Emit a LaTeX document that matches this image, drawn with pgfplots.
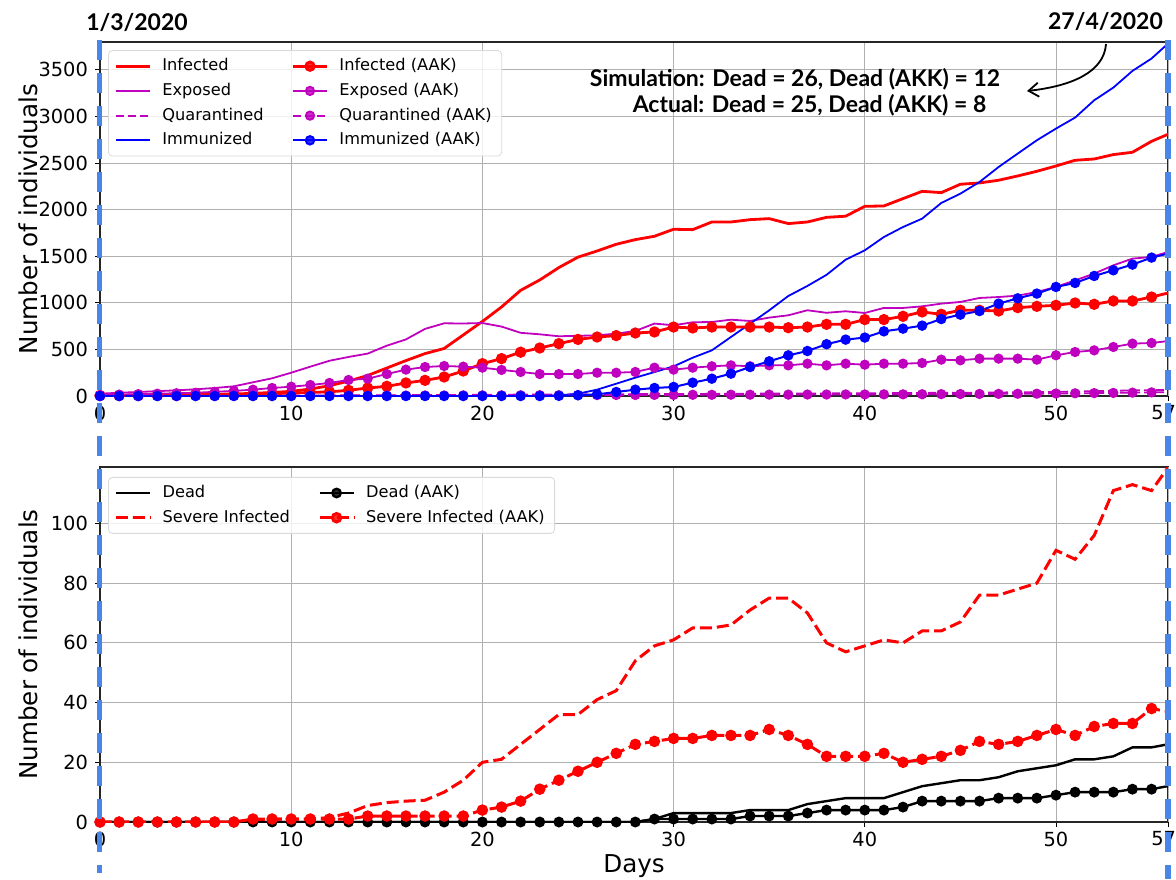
\documentclass[border=0pt]{standalone}
\usepackage{pgfplots}
\pgfplotsset{compat=1.18}
\usepackage{pgfplotstable}
\usepackage{fontspec}
\setmainfont{DejaVu Sans}
\newfontfamily\latofont{Lato}
\usetikzlibrary{arrows.meta}
\definecolor{mred}{RGB}{255,0,0}
\definecolor{mmag}{RGB}{191,0,191}
\definecolor{mblue}{RGB}{0,0,255}
\definecolor{gblue}{RGB}{74,134,232}
\definecolor{gridgray}{RGB}{176,176,176}

\pgfplotstableread{
d inf exp quar imm infA expA quarA immA
0 5 25 0 0 5 10 0 0
1 6 35 0 0 5 15 0 0
2 8 43 0 0 6 20 0 0
3 10 52 1 0 7 25 0 0
4 12 61 1 0 8 30 1 0
5 15 72 2 0 10 35 1 0
6 18 86 2 0 12 45 1 0
7 22 104 3 0 15 55 2 0
8 28 147 3 0 20 68 2 0
9 38 190 4 0 25 86 2 0
10 50 250 5 0 32 100 3 0
11 75 315 5 0 38 118 3 0
12 110 378 6 0 45 140 3 0
13 160 419 7 0 61 172 4 0
14 220 455 8 0 86 186 4 0
15 300 540 8 0 104 236 5 0
16 380 607 9 0 140 283 5 0
17 455 720 10 0 168 311 6 0
18 510 780 11 0 204 322 6 0
19 655 778 12 0 268 315 7 0
20 800 783 13 0 347 304 7 0
21 955 745 14 0 401 280 8 0
22 1134 678 15 0 470 258 8 0
23 1245 662 15 0 515 236 9 0
24 1378 641 16 7 562 235 9 2
25 1490 646 17 25 607 236 10 8
26 1556 651 18 68 633 250 10 18
27 1628 669 19 132 648 250 11 43
28 1678 698 20 197 676 258 11 68
29 1714 777 20 257 687 304 12 86
30 1789 759 21 318 740 283 12 97
31 1785 791 22 411 730 304 13 143
32 1867 794 23 490 740 319 13 186
33 1867 819 24 633 740 329 14 240
34 1892 805 25 776 740 319 14 311
35 1903 841 26 919 740 329 15 372
36 1850 866 26 1073 733 329 15 436
37 1867 920 27 1181 740 347 16 483
38 1917 893 28 1300 769 329 16 556
39 1929 909 29 1463 769 347 17 605
40 2035 891 30 1563 820 336 17 627
41 2039 945 31 1706 820 347 18 694
42 2118 945 32 1813 855 347 18 723
43 2196 962 33 1903 902 354 19 755
44 2182 991 34 2071 877 390 20 826
45 2272 1009 35 2171 920 383 21 873
46 2286 1052 36 2296 920 401 22 912
47 2315 1062 38 2457 912 401 23 991
48 2361 1077 40 2601 948 401 24 1048
49 2411 1116 42 2744 962 390 25 1099
50 2468 1170 45 2869 973 437 27 1170
51 2529 1241 48 2987 998 472 29 1213
52 2543 1313 52 3173 984 490 31 1288
53 2590 1402 56 3309 1020 526 33 1349
54 2615 1474 60 3488 1020 562 36 1410
55 2733 1492 63 3621 1062 569 39 1485
56 2820 1554 66 3807 1112 593 42 1535
}\toptab

\pgfplotstableread{
d dead sev deadA sevA
0 0 0 0 0
1 0 0 0 0
2 0 0 0 0
3 0 0 0 0
4 0 0 0 0
5 0 0 0 0
6 0 0 0 0
7 0 0 0 0
8 0 0.5 0 1
9 0 1 0 1
10 0 1 0 1
11 0 1 0 1
12 0 1.5 0 1
13 0 3 0 1
14 0 5.5 0 2
15 0 6.5 0 2
16 0 7 0 2
17 0 7.3 0 2
18 0 10 0 2
19 0 14 0 2
20 0 20 0 4
21 0 21 0 5
22 0 26 0 7
23 0 31 0 11
24 0 36 0 14
25 0 36 0 17
26 0 41 0 20
27 0 44 0 23
28 0 54 0 26
29 1 59 1 27
30 3 61 1 28
31 3 65 1 28
32 3 65 1 29
33 3 66 1 29
34 4 71 2 29
35 4 75 2 31
36 4 75 2 29
37 6 70 3 26
38 7 60 4 22
39 8 57 4 22
40 8 59 4 22
41 8 61 4 23
42 10 60 5 20
43 12 64 7 21
44 13 64 7 22
45 14 67 7 24
46 14 76 7 27
47 15 76 8 26
48 17 78 8 27
49 18 80 8 29
50 19 91 9 31
51 21 88 10 29
52 21 96 10 32
53 22 111 10 33
54 25 113 11 33
55 25 111 11 38
56 26.2 120 12.2 36.8
}\bottab

\pgfplotsset{
  mystyle/.style={
    scale only axis, width=534pt,
    xmin=0, xmax=55.86,
    xtick={0,10,20,30,40,50},
    extra x ticks={55.86}, extra x tick labels={57},
    extra x tick style={grid=major, xticklabel style={xshift=-2.2pt}},
    grid=major, major grid style={gridgray, line width=0.45pt},
    axis line style={black!85, line width=0.55pt},
    tick align=outside, tick pos=left, major tick length=2.5pt,
    tick style={black, line width=0.45pt},
    ticklabel style={font=\fontsize{9.7}{11}\selectfont},
    xticklabel style={yshift=1.2pt},
    /pgf/number format/assume math mode=true,
    /pgf/number format/set thousands separator={},
    every axis y label/.style={at={(axis description cs:-0.0674,0.5)}, rotate=90, anchor=center, font=\fontsize{12.3}{14}\selectfont},
    legend cell align=left,
    legend columns=2,
    legend style={anchor=north west, draw=black!15, rounded corners=2pt,
      fill=white, fill opacity=0.8, text opacity=1,
      font=\fontsize{8.1}{9.5}\selectfont, row sep=0.7pt,
      /tikz/every odd column/.append style={column sep=3.5pt},
      /tikz/every even column/.append style={column sep=12pt}},
  }
}

\begin{document}
\begin{tikzpicture}
\useasboundingbox (0,0) rectangle (588pt,-439.5pt);

\begin{axis}[mystyle, height=177pt, at={(50pt,-198pt)}, anchor=south west,
  ymin=0, ymax=3798, ytick={0,500,1000,1500,2000,2500,3000,3500},
  ylabel={Number of individuals},
  legend style={at={(axis description cs:0.0075,0.977)}}]
\addplot[forget plot, mred, line width=1.4pt] table[x=d,y=inf]{\toptab};
\addplot[forget plot, mmag, line width=0.9pt] table[x=d,y=exp]{\toptab};
\addplot[forget plot, mmag, line width=0.9pt, dash pattern=on 4pt off 2pt] table[x=d,y=quar]{\toptab};
\addplot[forget plot, mblue, line width=0.9pt] table[x=d,y=imm]{\toptab};
\addplot[forget plot, mred, line width=1.4pt, mark=*, mark size=2.1pt] table[x=d,y=infA]{\toptab};
\addplot[forget plot, mmag, line width=0.9pt, mark=*, mark size=2.1pt] table[x=d,y=expA]{\toptab};
\addplot[forget plot, mmag, line width=0.9pt, dash pattern=on 4pt off 2pt, mark=*, mark size=2.1pt, mark options={solid}] table[x=d,y=quarA]{\toptab};
\addplot[forget plot, mblue, line width=1pt, mark=*, mark size=2.1pt] table[x=d,y=immA]{\toptab};
\addlegendimage{mred, line width=1.4pt}
\addlegendentry{Infected}
\addlegendimage{mred, line width=1.4pt, mark=*, mark size=2.1pt}
\addlegendentry{Infected (AAK)}
\addlegendimage{mmag, line width=0.9pt}
\addlegendentry{Exposed}
\addlegendimage{mmag, line width=0.9pt, mark=*, mark size=2.1pt}
\addlegendentry{Exposed (AAK)}
\addlegendimage{mmag, line width=0.9pt, dash pattern=on 4pt off 2pt}
\addlegendentry{Quarantined}
\addlegendimage{mmag, line width=0.9pt, dash pattern=on 4pt off 2pt, mark=*, mark size=2.1pt, mark options={solid}}
\addlegendentry{Quarantined (AAK)}
\addlegendimage{mblue, line width=0.9pt}
\addlegendentry{Immunized}
\addlegendimage{mblue, line width=1pt, mark=*, mark size=2.1pt}
\addlegendentry{Immunized (AAK)}
\end{axis}

\begin{axis}[mystyle, height=177.5pt, at={(50pt,-411pt)}, anchor=south west,
  ymin=0, ymax=118.9, ytick={0,20,40,60,80,100},
  ylabel={Number of individuals},
  xlabel={Days},
  every axis x label/.style={at={(axis description cs:0.5,-0.124)}, anchor=center, font=\fontsize{12.3}{14}\selectfont},
  legend style={at={(axis description cs:0.0075,0.972)}}]
\addplot[forget plot, black, line width=1.2pt] table[x=d,y=dead]{\bottab};
\addplot[forget plot, mred, line width=1.5pt, dash pattern=on 6pt off 2.5pt] table[x=d,y=sev]{\bottab};
\addplot[forget plot, black, line width=1.2pt, mark=*, mark size=2.1pt] table[x=d,y=deadA]{\bottab};
\addplot[forget plot, mred, line width=1.5pt, dash pattern=on 6pt off 2.5pt, mark=*, mark size=2.1pt, mark options={solid}] table[x=d,y=sevA]{\bottab};
\addlegendimage{black, line width=1.2pt}
\addlegendentry{Dead}
\addlegendimage{black, line width=1.2pt, mark=*, mark size=2.1pt}
\addlegendentry{Dead (AAK)}
\addlegendimage{mred, line width=1.5pt, dash pattern=on 6pt off 2.5pt}
\addlegendentry{Severe Infected}
\addlegendimage{mred, line width=1.5pt, dash pattern=on 6pt off 2.5pt, mark=*, mark size=2.1pt, mark options={solid}}
\addlegendentry{Severe Infected (AAK)}
\end{axis}

\begin{scope}[x=0.5pt,y=-0.5pt]
\draw[gblue, line width=2.6pt, dash pattern=on 10pt off 6.5pt] (99.5,40) -- (99.5,873);
\draw[gblue, line width=2.6pt, dash pattern=on 10pt off 6.5pt] (1168,40) -- (1168,879);
\node[font=\latofont\bfseries\fontsize{11.5}{13}\selectfont, anchor=center] at (137,22) {1/3/2020};
\node[font=\latofont\bfseries\fontsize{11.5}{13}\selectfont, anchor=center] at (1105.5,21) {27/4/2020};
\node[font=\latofont\bfseries\fontsize{11.5}{13}\selectfont, anchor=base] at (795,86.5) {Simulation: Dead = 26, Dead (AKK) = 12};
\node[font=\latofont\bfseries\fontsize{11.5}{13}\selectfont, anchor=base] at (809.5,112) {Actual: Dead = 25, Dead (AKK) = 8};
\draw[line width=0.9pt, -{Straight Barb[length=5pt,width=7pt]}] (1106,44) .. controls (1104,72) and (1072,86) .. (1027,91);
\end{scope}
\end{tikzpicture}
\end{document}
